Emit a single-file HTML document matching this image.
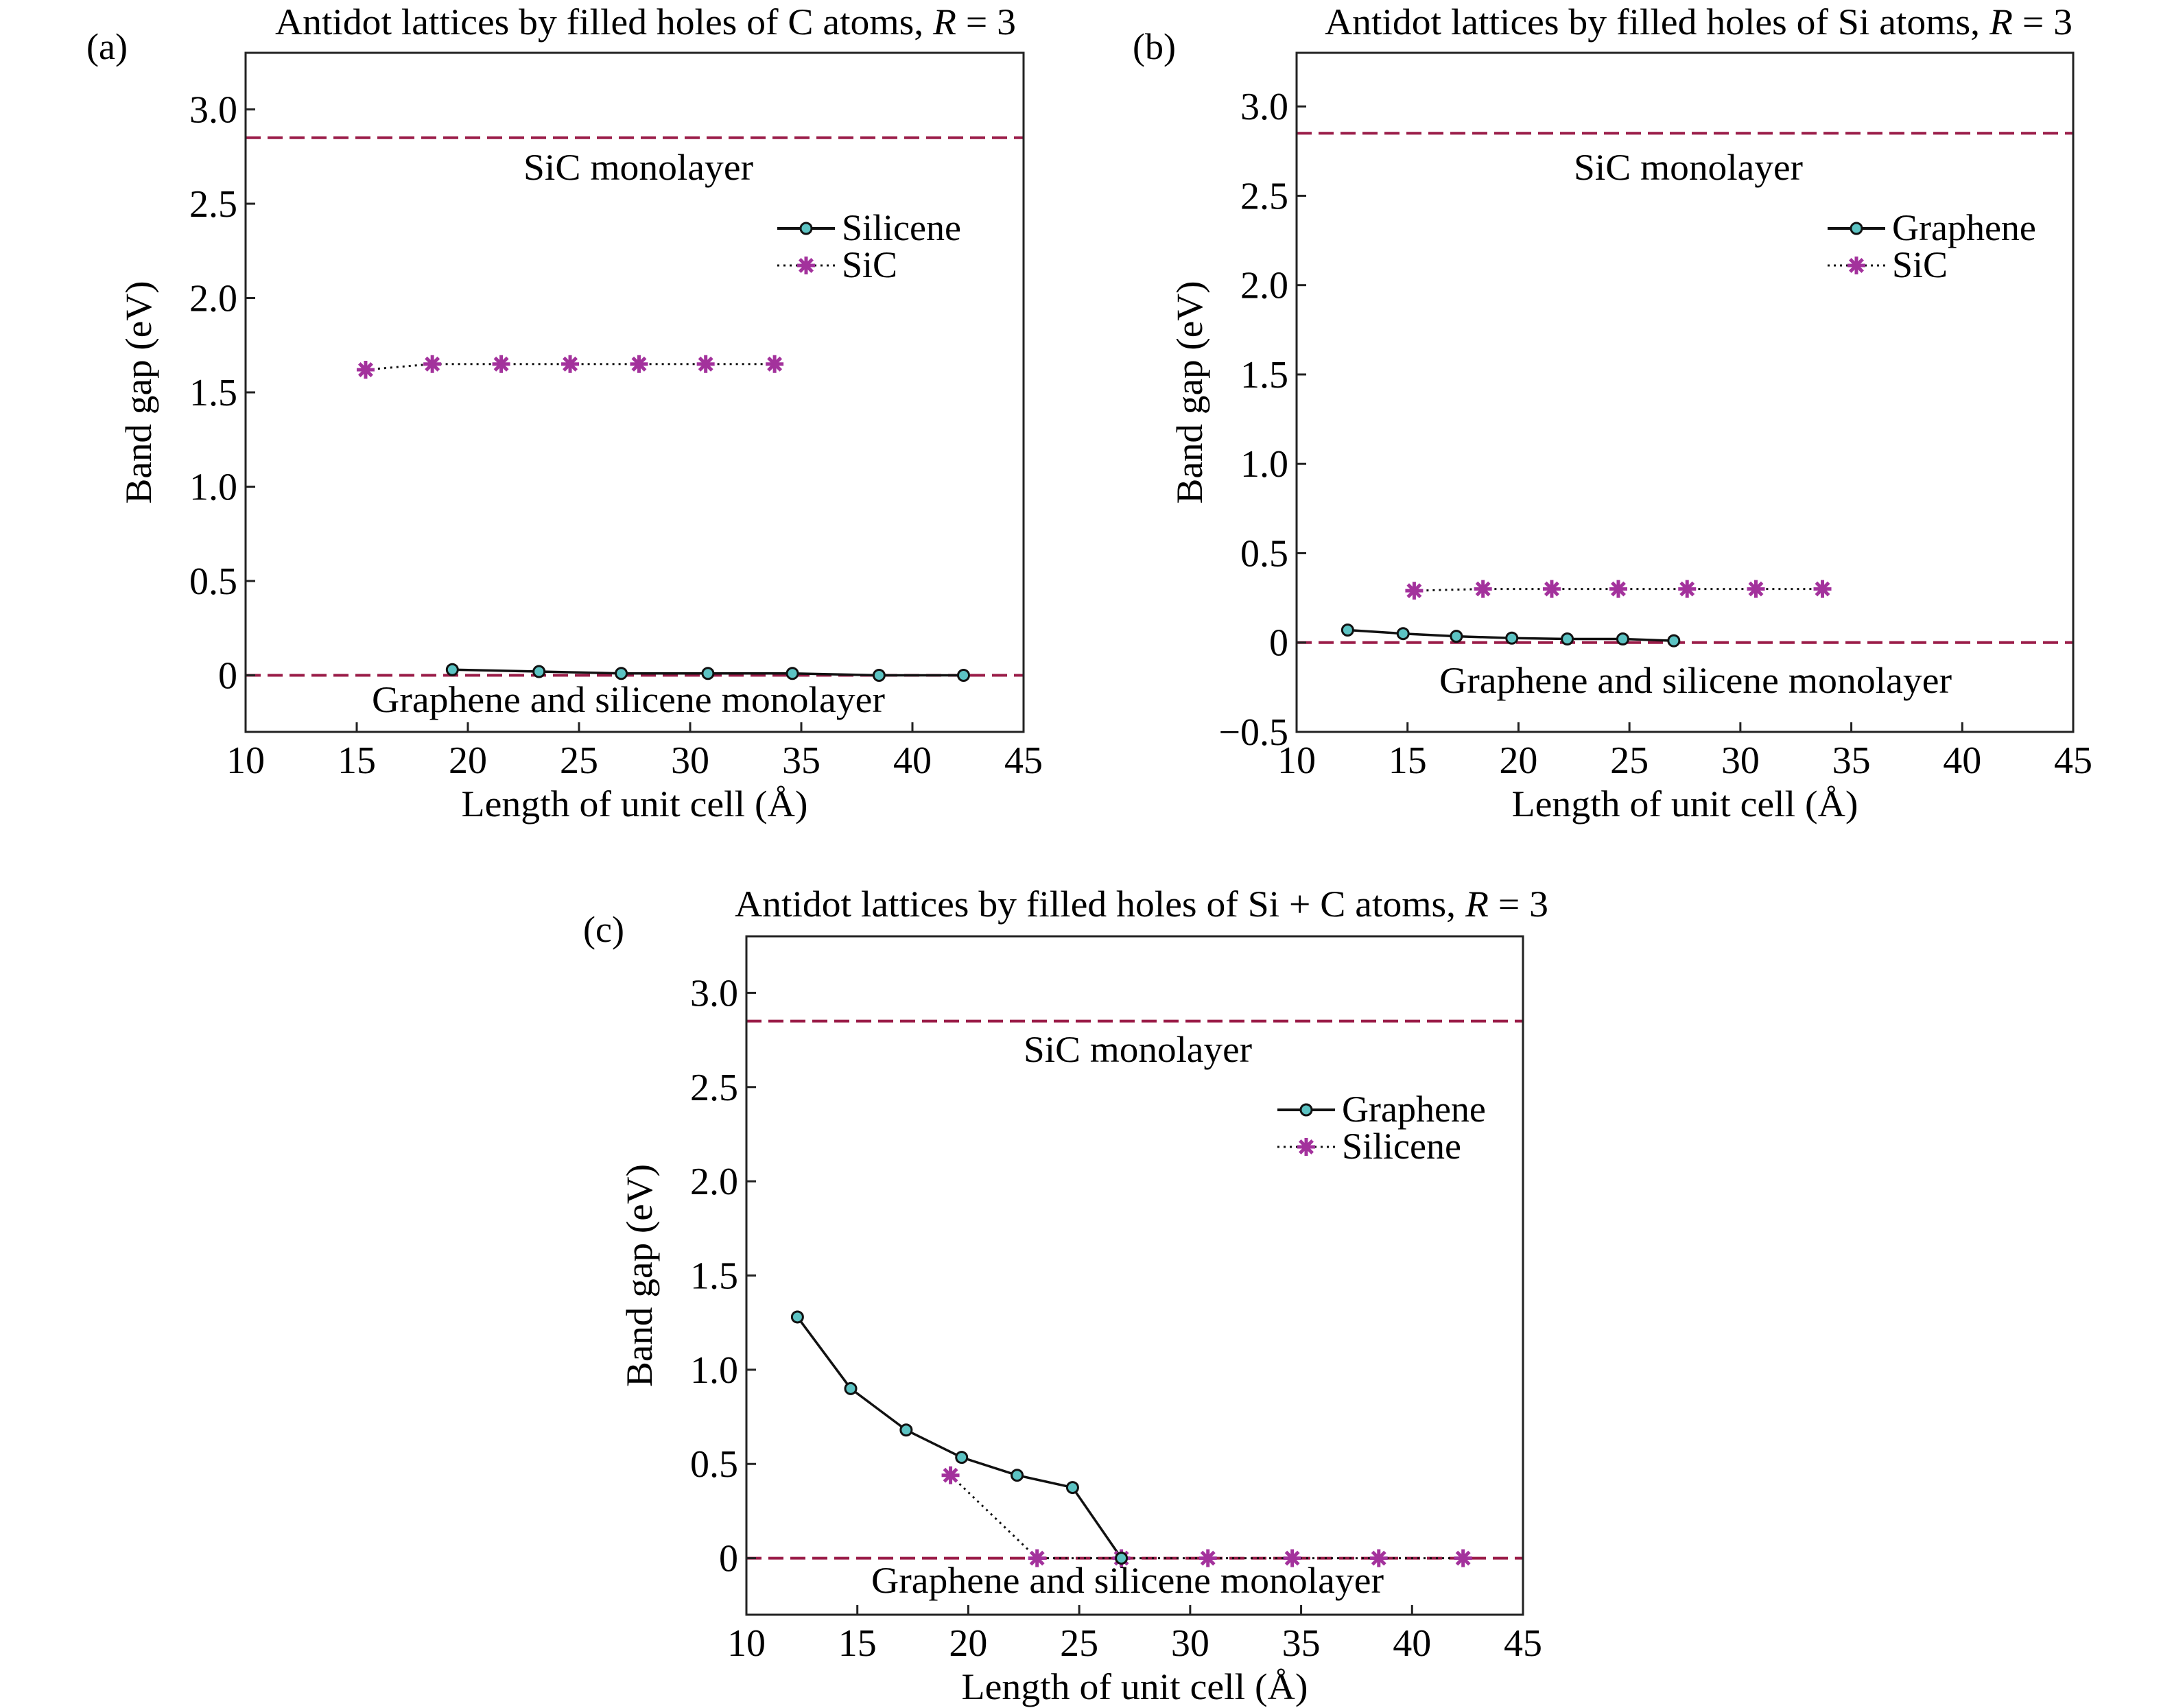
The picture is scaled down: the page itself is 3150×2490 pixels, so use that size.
<!DOCTYPE html>
<html><head><meta charset="utf-8"><style>
html,body{margin:0;padding:0;background:#fff;}
svg{display:block;font-family:"Liberation Serif",serif;}
</style></head><body>
<svg id="fig" width="3150" height="2490" viewBox="0 0 3150 2490" xmlns="http://www.w3.org/2000/svg"></svg>
<script>
// Panel (a) data
const aSiCX = [15.4, 18.4, 21.5, 24.6, 27.7, 30.7, 33.8];
const aSiCY = [1.62, 1.65, 1.65, 1.65, 1.65, 1.65, 1.65];
const aSilX = [19.3, 23.2, 26.9, 30.8, 34.6, 38.5, 42.3];
const aSilY = [0.03, 0.02, 0.01, 0.01, 0.01, 0.0, 0.0];
// Panel (b) data
const bGraX = [12.3, 14.8, 17.2, 19.7, 22.2, 24.7, 27.0];
const bGraY = [0.07, 0.05, 0.035, 0.025, 0.02, 0.02, 0.01];
const bSiCX = [15.3, 18.4, 21.5, 24.5, 27.6, 30.7, 33.7];
const bSiCY = [0.29, 0.30, 0.30, 0.30, 0.30, 0.30, 0.30];
// Panel (c) data
const cGraX = [12.3, 14.7, 17.2, 19.7, 22.2, 24.7, 26.9];
const cGraY = [1.28, 0.90, 0.68, 0.535, 0.44, 0.375, 0.0];
const cSilX = [19.2, 23.1, 26.9, 30.8, 34.6, 38.5, 42.3];
const cSilY = [0.44, 0.0, 0.0, 0.0, 0.0, 0.0, 0.0];
// reference levels
const sicLevel = 2.85;
const grapheneLevel = 0.0;
// ticks
const xTicks = [10, 15, 20, 25, 30, 35, 40, 45];
const xTickLabels = ["10","15","20","25","30","35","40","45"];
const yTicksAC = [0, 0.5, 1.0, 1.5, 2.0, 2.5, 3.0];
const yTickLabelsAC = ["0","0.5","1.0","1.5","2.0","2.5","3.0"];
const yTicksB = [-0.5, 0, 0.5, 1.0, 1.5, 2.0, 2.5, 3.0];
const yTickLabelsB = ["\u22120.5","0","0.5","1.0","1.5","2.0","2.5","3.0"];

const NS = "http://www.w3.org/2000/svg";
const svg = document.getElementById("fig");
function mk(tag, attrs, parent) {
  const e = document.createElementNS(NS, tag);
  for (const k in attrs) e.setAttribute(k, attrs[k]);
  (parent || svg).appendChild(e);
  return e;
}
function txt(s, attrs, parent) { const t = mk("text", attrs, parent); t.textContent = s; return t; }

const DASH = "#9a1c48", STAR = "#a3329c", TEAL = "#5cc3c3";

function star(g, x, y) {
  const r = 13;
  for (let i = 0; i < 4; i++) {
    const a = i * Math.PI / 4;
    const l = mk("line", {x1: x - r*Math.cos(a), y1: y - r*Math.sin(a), x2: x + r*Math.cos(a), y2: y + r*Math.sin(a), stroke: STAR, "stroke-width": 5}, g);
    
    
  }
}
function circ(g, x, y) {
  const c = mk("circle", {cx: x, cy: y, r: 8, fill: TEAL, stroke: "#111", "stroke-width": 3}, g);
  
  
}

function panel(p) {
  const g = mk("g", {});
  
  
  const X = v => p.L + (v - 10) / 35 * (p.R - p.L);
  const Y = v => p.B - (v - p.ymin) / (p.ymax - p.ymin) * (p.B - p.T);
  const ti = txt(p.title, {x: p.titleX, y: p.titleY, "font-size": 54, textLength: p.titleW, lengthAdjust: "spacingAndGlyphs"}, g);
  
  
  const it = mk("tspan", {"font-style": "italic"}, ti);
  const pl = txt("(" + p.id + ")", {x: p.labX, y: p.labY, "font-size": 54}, g);
  
  
  [sicLevel, grapheneLevel].forEach((lv, i) => {
    const l = mk("line", {x1: p.L, x2: p.R, y1: Y(lv), y2: Y(lv), stroke: DASH, "stroke-width": 4, "stroke-dasharray": "22,10"}, g);
    
    
  });
  const s1 = txt("SiC monolayer", {x: p.sicTX, y: p.sicTY, "font-size": 54, textLength: p.sicTW, lengthAdjust: "spacingAndGlyphs"}, g);
  
  
  const s2 = txt("Graphene and silicene monolayer", {x: p.grTX, y: p.grTY, "font-size": 54, textLength: p.grTW, lengthAdjust: "spacingAndGlyphs"}, g);
  
  
  const solidPts = p.sx.map((v, i) => X(v) + "," + Y(p.sy[i])).join(" ");
  const dotPts = p.dx.map((v, i) => X(v) + "," + Y(p.dy[i])).join(" ");
  const dl = mk("polyline", {points: dotPts, fill: "none", stroke: "#111", "stroke-width": 3, "stroke-dasharray": "3,6"}, g);
  
  
  const sl = mk("polyline", {points: solidPts, fill: "none", stroke: "#111", "stroke-width": 3.5}, g);
  
  
  p.dx.forEach((v, i) => star(g, X(v), Y(p.dy[i])));
  p.sx.forEach((v, i) => circ(g, X(v), Y(p.sy[i])));
  const box = mk("rect", {x: p.L, y: p.T, width: p.R - p.L, height: p.B - p.T, fill: "none", stroke: "#222", "stroke-width": 3}, g);
  
  
  xTicks.forEach((v, i) => {
    const t = mk("line", {x1: X(v), x2: X(v), y1: p.B, y2: p.B - 14, stroke: "#222", "stroke-width": 3}, g);
    
    
    const lb = txt(xTickLabels[i], {x: X(v), y: p.B + 60, "font-size": 56, "text-anchor": "middle"}, g);
    
    
  });
  p.yt.forEach((v, i) => {
    const t = mk("line", {x1: p.L, x2: p.L + 14, y1: Y(v), y2: Y(v), stroke: "#222", "stroke-width": 3}, g);
    
    
    const lb = txt(p.yl[i], {x: p.L - 12, y: Y(v) + 19, "font-size": 56, "text-anchor": "end"}, g);
    
    
  });
  const xt = txt("Length of unit cell (\u00c5)", {x: (p.L + p.R) / 2, y: p.B + 123, "font-size": 54, "text-anchor": "middle", textLength: 505, lengthAdjust: "spacingAndGlyphs"}, g);
  
  
  const yc = (p.T + p.B) / 2;
  const yt = txt("Band gap (eV)", {x: p.yTitleX, y: yc, "font-size": 54, "text-anchor": "middle", transform: "rotate(-90 " + p.yTitleX + " " + yc + ")", textLength: 325, lengthAdjust: "spacingAndGlyphs"}, g);
  
  
  const lg = mk("g", {}, g);
  
  
  const l1 = mk("line", {x1: p.legX, x2: p.legX + 84, y1: p.legY, y2: p.legY, stroke: "#111", "stroke-width": 4}, lg);
  
  
  circ(lg, p.legX + 42, p.legY);
  const e1 = txt(p.leg1, {x: p.legX + 94, y: p.legY + 17, "font-size": 54}, lg);
  
  
  const l2 = mk("line", {x1: p.legX, x2: p.legX + 84, y1: p.legY + 54, y2: p.legY + 54, stroke: "#111", "stroke-width": 3, "stroke-dasharray": "3,6"}, lg);
  
  
  star(lg, p.legX + 42, p.legY + 54);
  const e2 = txt(p.leg2, {x: p.legX + 94, y: p.legY + 71, "font-size": 54}, lg);
  
  
  return it;
}

const panels = [
  {id: "a", L: 358, R: 1492, T: 77, B: 1067, ymin: -0.3, ymax: 3.3, yt: yTicksAC, yl: yTickLabelsAC,
   title: "Antidot lattices by filled holes of C atoms, ", titleX: 401, titleY: 50, titleW: 1080,
   labX: 126, labY: 86, sicTX: 763, sicTY: 262, sicTW: 335, grTX: 542, grTY: 1038, grTW: 748,
   sx: aSilX, sy: aSilY, dx: aSiCX, dy: aSiCY, leg1: "Silicene", leg2: "SiC", legX: 1133, legY: 333, yTitleX: 220},
  {id: "b", L: 1890, R: 3022, T: 77, B: 1067, ymin: -0.5, ymax: 3.3, yt: yTicksB, yl: yTickLabelsB,
   title: "Antidot lattices by filled holes of Si atoms, ", titleX: 1931, titleY: 50, titleW: 1090,
   labX: 1651, labY: 86, sicTX: 2294, sicTY: 262, sicTW: 334, grTX: 2098, grTY: 1010, grTW: 747,
   sx: bGraX, sy: bGraY, dx: bSiCX, dy: bSiCY, leg1: "Graphene", leg2: "SiC", legX: 2664, legY: 333, yTitleX: 1752},
  {id: "c", L: 1088, R: 2220, T: 1365, B: 2354, ymin: -0.3, ymax: 3.3, yt: yTicksAC, yl: yTickLabelsAC,
   title: "Antidot lattices by filled holes of Si + C atoms, ", titleX: 1071, titleY: 1336, titleW: 1186,
   labX: 850, labY: 1373, sicTX: 1492, sicTY: 1548, sicTW: 333, grTX: 1270, grTY: 2322, grTW: 747,
   sx: cGraX, sy: cGraY, dx: cSilX, dy: cSilY, leg1: "Graphene", leg2: "Silicene", legX: 1862, legY: 1618, yTitleX: 950}
];
panels.forEach(p => {
  const it = panel(p);
  it.textContent = "R";
  const tail = document.createElementNS(NS, "tspan");
  tail.textContent = " = 3";
  it.parentNode.appendChild(tail);
});
</script>
</body></html>
